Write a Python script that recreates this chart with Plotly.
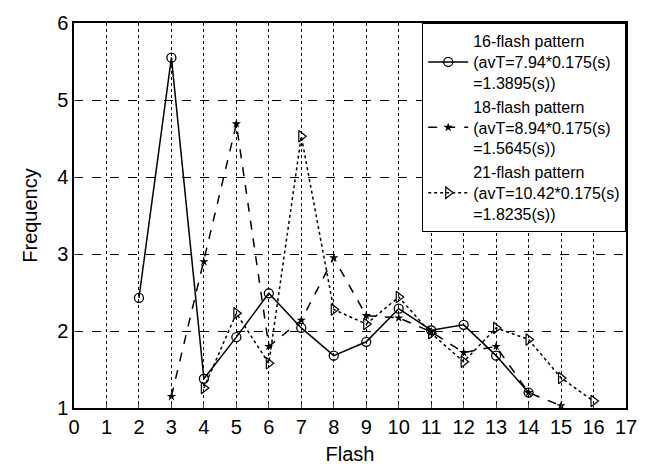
import plotly.graph_objects as go

x16 = [2, 3, 4, 5, 6, 7, 8, 9, 10, 11, 12, 13, 14]
y16 = [2.43, 5.55, 1.38, 1.92, 2.49, 2.04, 1.68, 1.86, 2.29, 2.01, 2.08, 1.68, 1.20]

x18 = [3, 4, 5, 6, 7, 8, 9, 10, 11, 12, 13, 14, 15]
y18 = [1.15, 2.90, 4.69, 1.80, 2.14, 2.95, 2.20, 2.17, 1.99, 1.72, 1.80, 1.20, 1.03]

x21 = [4, 5, 6, 7, 8, 9, 10, 11, 12, 13, 14, 15, 16]
y21 = [1.26, 2.23, 1.58, 4.53, 2.28, 2.09, 2.44, 1.97, 1.60, 2.04, 1.89, 1.39, 1.09]

names = [
    "16-flash pattern<br>(avT=7.94*0.175(s)<br>=1.3895(s))",
    "18-flash pattern<br>(avT=8.94*0.175(s)<br>=1.5645(s))",
    "21-flash pattern<br>(avT=10.42*0.175(s)<br>=1.8235(s))",
]

xticks = list(range(0, 18))
yticks = [1, 2, 3, 4, 5, 6]

fig = go.Figure()
fig.add_trace(go.Scatter(x=x16, y=y16, mode="lines+markers", name=names[0],
                         line=dict(color="black", width=1.5, dash="solid"),
                         marker=dict(symbol="circle-open", size=9, color="black", line=dict(width=1.3))))
fig.add_trace(go.Scatter(x=x18, y=y18, mode="lines+markers", name=names[1],
                         line=dict(color="black", width=1.5, dash="dash"),
                         marker=dict(symbol="star", size=7, color="black")))
fig.add_trace(go.Scatter(x=x21, y=y21, mode="lines+markers", name=names[2],
                         line=dict(color="black", width=1.5, dash="dot"),
                         marker=dict(symbol="triangle-right-open", size=10, color="black", line=dict(width=1.2))))

fig.update_layout(
    width=638, height=459,
    margin=dict(l=66, r=20, t=15, b=59),
    paper_bgcolor="white", plot_bgcolor="white",
    font=dict(family="Liberation Sans, Arial, sans-serif", color="black", size=16),
    showlegend=True,
    legend=dict(x=1, y=1, xanchor="right", yanchor="top",
                bgcolor="white", bordercolor="black", borderwidth=1.2,
                font=dict(size=16), tracegroupgap=0, itemwidth=40),
    xaxis=dict(range=[0, 17], tickvals=xticks, ticktext=[str(v) for v in xticks],
               showgrid=True, gridcolor="black", griddash="dot", gridwidth=1,
               showline=True, linecolor="black", linewidth=1.5, mirror=True,
               ticks="inside", ticklen=4, zeroline=False, automargin=False,
               title=dict(text="Flash", font=dict(size=20), standoff=10),
               tickfont=dict(size=20)),
    yaxis=dict(range=[1, 6], tickvals=yticks, ticktext=[str(v) for v in yticks],
               showgrid=True, gridcolor="black", griddash="dash", gridwidth=1,
               showline=True, linecolor="black", linewidth=1.5, mirror=True,
               ticks="inside", ticklen=4, zeroline=False, automargin=False,
               title=dict(text="Frequency", font=dict(size=20), standoff=14),
               tickfont=dict(size=20)),
)

fig.write_html("out.html")
